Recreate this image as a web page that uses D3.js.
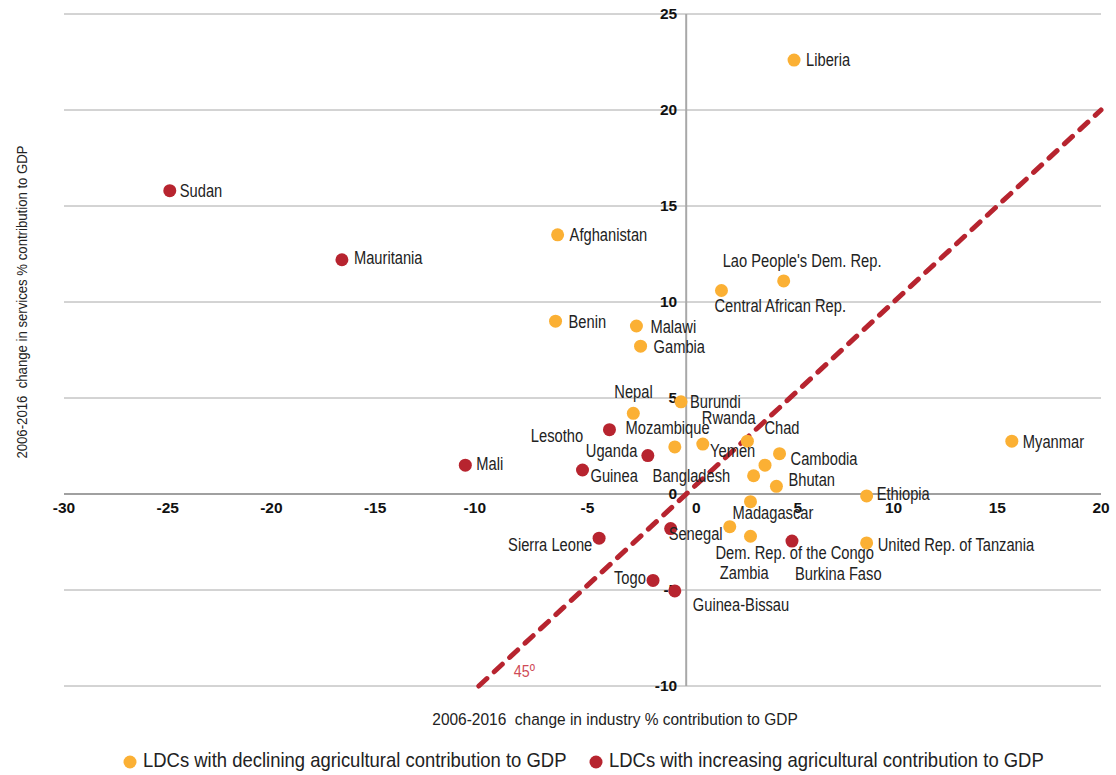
<!DOCTYPE html>
<html>
<head>
<meta charset="utf-8">
<script src="https://cdn.jsdelivr.net/npm/d3@7"></script>
<style>
  html, body { margin: 0; padding: 0; background: #fff; }
  svg { display: block; }
  .pre { white-space: pre; }
</style>
</head>
<body>
<svg id="chart" width="1116" height="775"></svg>
<script>
// ---- Data ----
const declineNames = ["Liberia","Afghanistan","Lao People's Dem. Rep.","Central African Rep.","Benin","Malawi","Gambia","Burundi","Nepal","Lesotho","Rwanda","Chad","Cambodia","Yemen","Bangladesh","Bhutan","Madagascar","Zambia","Dem. Rep. of the Congo","United Rep. of Tanzania","Ethiopia","Myanmar"];
const declineIndustry = [5.2, -6.2, 4.7, 1.7, -6.3, -2.4, -2.2, -0.25, -2.55, -0.55, 0.8, 2.95, 4.5, 3.8, 3.25, 4.35, 3.1, 2.1, 3.1, 8.7, 8.7, 15.7];
const declineServices = [22.6, 13.5, 11.1, 10.6, 9.0, 8.75, 7.7, 4.8, 4.2, 2.45, 2.6, 2.75, 2.1, 1.5, 0.95, 0.4, -0.4, -1.7, -2.2, -2.55, -0.1, 2.75];

const increaseNames = ["Sudan","Mauritania","Mali","Guinea","Mozambique","Uganda","Sierra Leone","Togo","Guinea-Bissau","Senegal","Burkina Faso"];
const increaseIndustry = [-24.9, -16.6, -10.65, -5.0, -3.7, -1.85, -4.2, -1.6, -0.55, -0.75, 5.1];
const increaseServices = [15.8, 12.2, 1.5, 1.25, 3.35, 2.0, -2.3, -4.5, -5.05, -1.8, -2.45];

const xTicks = [-30, -25, -20, -15, -10, -5, 0, 5, 10, 15, 20];
const yTicks = [-10, -5, 0, 5, 10, 15, 20, 25];
const diagonal = [-10, 20];

const seriesNames = ["LDCs with declining agricultural contribution to GDP", "LDCs with increasing agricultural contribution to GDP"];
const xTitle = "2006-2016  change in industry % contribution to GDP";
const yTitle = "2006-2016  change in services % contribution to GDP";

// ---- Layout (label offsets in px from the point) ----
const labelOffsets = {
  "Liberia":[12,1], "Sudan":[10,2], "Afghanistan":[12,2], "Mauritania":[12,0],
  "Lao People's Dem. Rep.":[-61,-18], "Central African Rep.":[-7,17], "Benin":[13,2],
  "Malawi":[14,2], "Gambia":[13,2], "Nepal":[-19,-20], "Burundi":[9,2],
  "Lesotho":[-144,-10], "Rwanda":[-1,-25], "Chad":[17,-12], "Cambodia":[11,7],
  "Yemen":[-55,-13], "Bangladesh":[-101,2], "Bhutan":[12,-5], "Madagascar":[-18,13],
  "Zambia":[-10,48], "Dem. Rep. of the Congo":[-35,18], "United Rep. of Tanzania":[11,3],
  "Ethiopia":[10,-1], "Myanmar":[11,2], "Mali":[11,0], "Guinea":[8,7],
  "Mozambique":[16,0], "Uganda":[-62,-3], "Sierra Leone":[-91,8], "Togo":[-39,-1],
  "Guinea-Bissau":[18,15], "Senegal":[-2,7], "Burkina Faso":[3,34]
};
const xTickShift = { "-10": -4, "-5": 5, "0": 10, "5": 8 };

const colors = ["#FBB034", "#B7242F"];
const sans = "'Liberation Sans',Arial,sans-serif";
const squeeze = 0.84;

const svg = d3.select("#chart");
const x = d3.scaleLinear().domain([-30, 20]).range([64, 1101]);
const y = d3.scaleLinear().domain([-10, 25]).range([686, 14]);

// gridlines
svg.append("g").selectAll("line").data(yTicks).join("line")
  .attr("x1", x(-30)).attr("x2", x(20))
  .attr("y1", d => y(d)).attr("y2", d => y(d))
  .attr("stroke", d => d === 0 ? "#a0a0a0" : "#a8a8a8")
  .attr("stroke-width", d => d === 0 ? 2 : 1);

// vertical axis at x=0
svg.append("line").attr("x1", x(0)).attr("x2", x(0))
  .attr("y1", y(25)).attr("y2", y(-10))
  .attr("stroke", "#a8a8a8").attr("stroke-width", 2);

// y tick labels
svg.append("g").selectAll("text").data(yTicks).join("text")
  .attr("x", x(0) - 9).attr("y", d => y(d) + 1)
  .attr("text-anchor", "end").attr("dominant-baseline", "middle")
  .attr("font-family", sans).attr("font-weight", "bold")
  .attr("font-size", 15.5).attr("fill", "#111")
  .text(d => d);

// x tick labels
svg.append("g").selectAll("text").data(xTicks).join("text")
  .attr("x", d => x(d) + (xTickShift[d] || 0)).attr("y", y(0) + 15)
  .attr("text-anchor", "middle").attr("dominant-baseline", "middle")
  .attr("font-family", sans).attr("font-weight", "bold")
  .attr("font-size", 15.5).attr("fill", "#111")
  .text(d => d);

// diagonal 45° line
svg.append("line")
  .attr("x1", x(diagonal[0])).attr("y1", y(diagonal[0]))
  .attr("x2", x(diagonal[1])).attr("y2", y(diagonal[1]))
  .attr("stroke", "#B7242F").attr("stroke-width", 5)
  .attr("stroke-dasharray", "11 10").attr("stroke-linecap", "round");

svg.append("text")
  .attr("transform", `translate(${x(-10) + 35},${y(-10) - 13}) scale(${squeeze},1)`)
  .attr("font-family", sans).attr("font-size", 17).attr("fill", "#cf4b57")
  .attr("dominant-baseline", "middle").text("45º");

// points
function drawSeries(names, xs, ys, color) {
  const data = names.map((n, i) => ({ name: n, x: xs[i], y: ys[i] }));
  const g = svg.append("g");
  g.selectAll("circle").data(data).join("circle")
    .attr("cx", d => x(d.x)).attr("cy", d => y(d.y)).attr("r", 6.5)
    .attr("fill", color);
  g.selectAll("text").data(data).join("text")
    .attr("transform", d => {
      const o = labelOffsets[d.name] || [10, 0];
      return `translate(${x(d.x) + o[0]},${y(d.y) + o[1]}) scale(${squeeze},1)`;
    })
    .attr("dominant-baseline", "middle")
    .attr("font-family", sans).attr("font-size", 17.5).attr("fill", "#222")
    .text(d => d.name);
}
drawSeries(declineNames, declineIndustry, declineServices, colors[0]);
drawSeries(increaseNames, increaseIndustry, increaseServices, colors[1]);

// axis titles
svg.append("text").attr("class", "pre")
  .attr("transform", `translate(615,721) scale(0.91,1)`)
  .attr("text-anchor", "middle").attr("dominant-baseline", "middle")
  .attr("font-family", sans).attr("font-size", 17).attr("fill", "#222")
  .text(xTitle);
svg.append("text").attr("class", "pre")
  .attr("transform", `translate(23,302) rotate(-90) scale(0.85,1)`)
  .attr("text-anchor", "middle").attr("dominant-baseline", "middle")
  .attr("font-family", sans).attr("font-size", 15.5).attr("fill", "#222")
  .text(yTitle);

// legend
const legendX = [130, 596];
const lg = svg.append("g");
seriesNames.forEach((s, i) => {
  lg.append("circle").attr("cx", legendX[i]).attr("cy", 762).attr("r", 6.5).attr("fill", colors[i]);
  lg.append("text")
    .attr("transform", `translate(${legendX[i] + 13},762) scale(0.9,1)`)
    .attr("dominant-baseline", "middle")
    .attr("font-family", sans).attr("font-size", 20.5).attr("fill", "#222")
    .text(s);
});
</script>
</body>
</html>
